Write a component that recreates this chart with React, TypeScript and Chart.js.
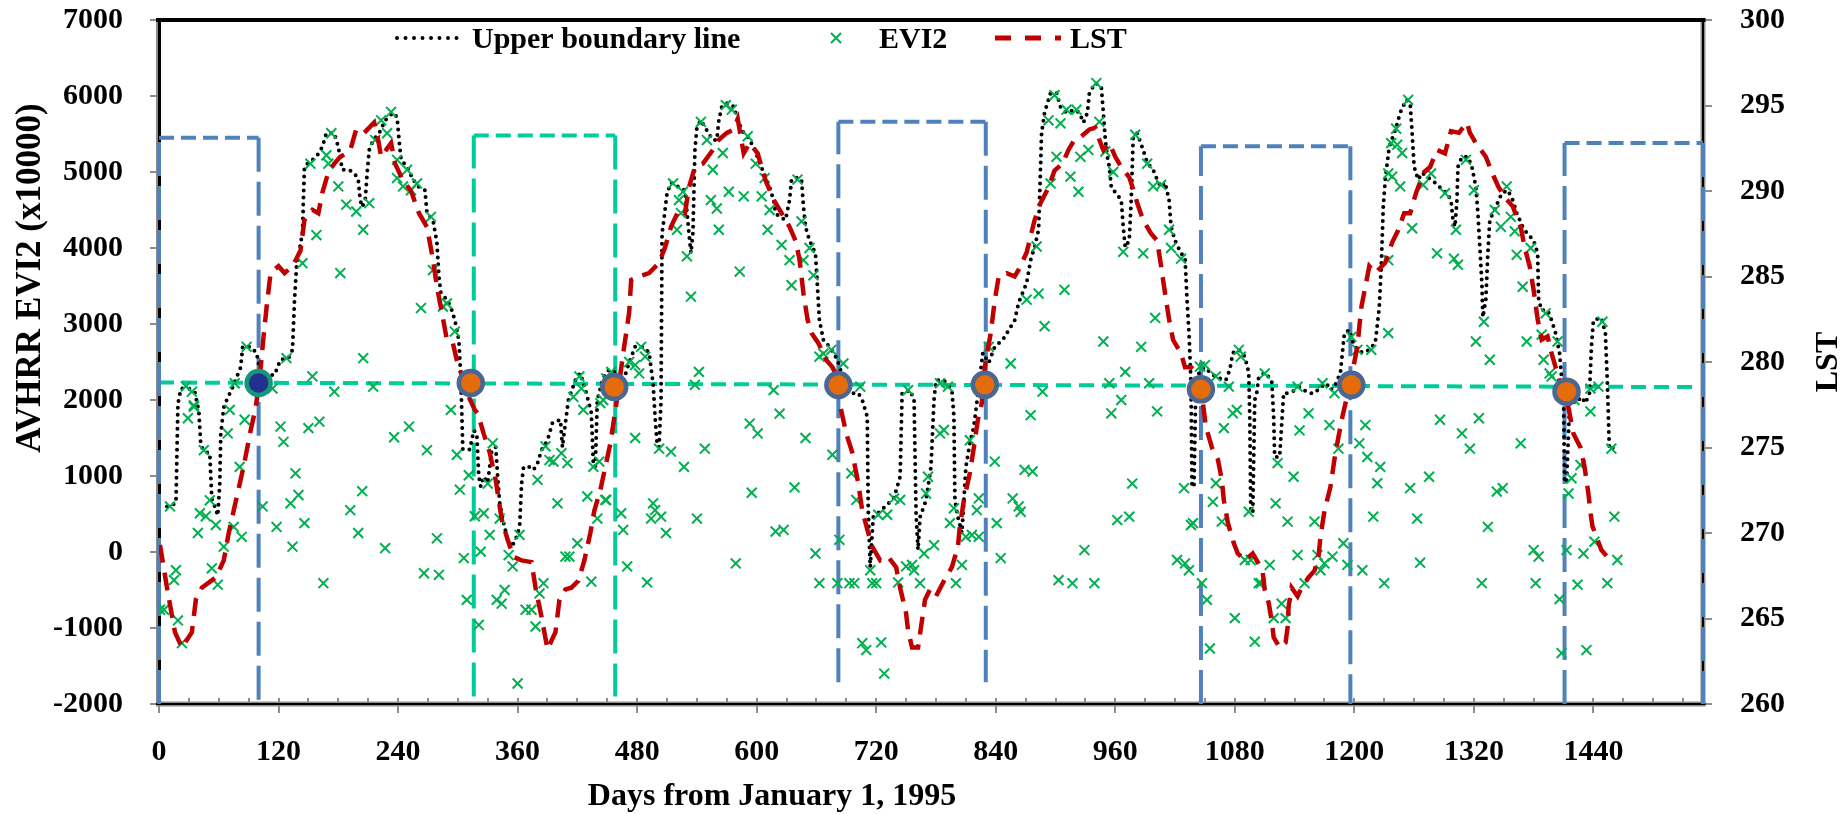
import React, { useEffect, useRef } from 'react';
import { Chart, registerables } from 'chart.js';
Chart.register(...registerables);

const FONT = "'Times New Roman', 'Liberation Serif', serif";

// ---- tick values ----
const xTickValues = [0, 120, 240, 360, 480, 600, 720, 840, 960, 1080, 1200, 1320, 1440];
const yTickValues = [-2000, -1000, 0, 1000, 2000, 3000, 4000, 5000, 6000, 7000];
const lstTickValues = [260, 265, 270, 275, 280, 285, 290, 295, 300];

// ---- titles / legend labels ----
const xTitle = 'Days from January 1, 1995';
const yTitle = 'AVHRR EVI2 (x10000)';
const y2Title = 'LST';
const legendLabels = ['Upper boundary line', 'EVI2', 'LST'];

// ---- series: [day, value] ----
const upperBoundary: [number, number][] = [
  [8, 600], [17, 640], [19, 1950], [22, 2150], [30, 2150], [36, 2100], [40, 1850], [42, 1400], [46, 1320], [51, 1300],
  [53, 700], [56, 600], [59, 480], [61, 900], [62, 1550], [65, 1900], [68, 2000], [74, 2170], [82, 2430], [84, 2700],
  [92, 2700], [98, 2620], [101, 2400], [106, 2330], [116, 2330], [122, 2530], [130, 2550], [134, 2660], [136, 3300],
  [138, 3750], [144, 4200], [146, 5070], [150, 5120], [158, 5200], [164, 5330], [168, 5510], [176, 5510], [180, 5330],
  [184, 5030], [190, 5030], [196, 4990], [200, 4900], [202, 4630], [204, 4540], [207, 4630], [209, 4990], [211, 5290],
  [215, 5420], [221, 5510], [227, 5680], [235, 5780], [239, 5720], [241, 5420], [243, 5160], [249, 5070], [255, 4900],
  [261, 4800], [267, 4760], [269, 4460], [275, 4370], [279, 4070], [281, 3620], [283, 3410], [289, 3320], [293, 3220],
  [297, 3050], [301, 2790], [303, 2300], [305, 1350], [312, 1350], [316, 1600], [319, 1560], [321, 1000], [323, 860],
  [326, 990], [330, 910], [334, 1340], [338, 1380], [340, 990], [342, 650], [346, 380], [350, 160], [354, 70], [358, 160],
  [362, 330], [364, 900], [366, 1120], [372, 1120], [376, 1080], [380, 1170], [384, 1340], [390, 1470], [395, 1700],
  [403, 1740], [405, 1380], [407, 1600], [411, 2000], [419, 2300], [423, 2350], [429, 2090], [434, 1830], [436, 1170],
  [438, 1120], [440, 2000], [446, 2300], [452, 2400], [460, 2350], [466, 2250], [472, 2490], [478, 2700], [486, 2700],
  [492, 2620], [496, 2220], [498, 1780], [500, 1430], [502, 1380], [504, 2000], [505, 4200], [506, 4280], [510, 4720],
  [514, 4860], [522, 4800], [528, 4760], [532, 4200], [534, 3930], [536, 4200], [538, 5290], [540, 5590], [544, 5680],
  [548, 5590], [556, 5420], [560, 5420], [562, 5680], [565, 5860], [571, 5910], [577, 5860], [581, 5680], [587, 5510],
  [591, 5460], [597, 5330], [603, 5120], [607, 4990], [613, 4800], [617, 4630], [619, 4460], [623, 4410], [629, 4370],
  [633, 4630], [635, 4900], [639, 4930], [645, 4900], [647, 4540], [649, 4280], [653, 4100], [659, 3930], [661, 3490],
  [663, 3050], [667, 2790], [673, 2700], [677, 2620], [681, 2530], [685, 2360], [690, 2170], [696, 2090], [702, 2090],
  [706, 2000], [711, 1780], [712, 550], [714, -200], [716, 250], [717, 460], [725, 550], [733, 650], [738, 720],
  [744, 990], [746, 2090], [754, 2130], [758, 2000], [760, 500], [762, 30], [764, 460], [770, 680], [775, 1120],
  [778, 2000], [780, 2260], [788, 2260], [796, 2130], [798, 1780], [799, 680], [802, 460], [806, 250], [808, 680],
  [810, 1120], [814, 1430], [818, 1650], [823, 2170], [827, 2620], [833, 2490], [839, 2700], [847, 2790], [853, 2920],
  [859, 3050], [863, 3280], [867, 3410], [871, 3540], [875, 3840], [879, 4010], [883, 4240], [885, 5070], [886, 5510],
  [889, 5780], [895, 6040], [901, 6040], [905, 5860], [911, 5780], [919, 5820], [924, 5780], [928, 5650], [932, 5780],
  [934, 6040], [940, 6170], [946, 6120], [948, 5780], [950, 5420], [952, 5200], [954, 5070], [956, 4800], [966, 4630],
  [968, 4280], [970, 4010], [974, 4100], [976, 4630], [978, 5460], [982, 5510], [988, 5290], [992, 5120], [998, 5030],
  [1002, 4900], [1006, 4800], [1010, 4860], [1014, 4630], [1016, 4280], [1020, 4100], [1026, 3930], [1030, 3880],
  [1032, 3320], [1034, 2880], [1036, 2220], [1037, 860], [1039, 860], [1041, 2300], [1049, 2430], [1061, 2300],
  [1071, 2260], [1075, 2400], [1078, 2620], [1084, 2660], [1090, 2570], [1094, 2360], [1095, 1780], [1096, 550],
  [1098, 510], [1100, 2000], [1102, 2090], [1104, 2300], [1110, 2360], [1117, 2260], [1119, 1780], [1120, 1250],
  [1125, 1250], [1129, 2090], [1133, 2090], [1141, 2130], [1145, 2170], [1154, 2090], [1160, 2090], [1166, 2170],
  [1172, 2220], [1176, 2130], [1180, 2170], [1186, 2360], [1188, 2620], [1190, 2880], [1195, 2920], [1199, 2750],
  [1203, 2660], [1209, 2620], [1215, 2660], [1221, 2750], [1225, 3220], [1227, 3750], [1229, 4540], [1231, 4900],
  [1235, 5330], [1242, 5590], [1246, 5780], [1252, 5950], [1256, 5910], [1258, 5510], [1260, 5070], [1264, 4900],
  [1268, 4990], [1274, 4930], [1281, 4860], [1289, 4760], [1293, 4720], [1297, 4630], [1299, 4370], [1301, 4280],
  [1303, 4630], [1304, 5070], [1308, 5200], [1314, 5200], [1318, 5070], [1322, 4800], [1324, 4460], [1326, 4010],
  [1328, 3540], [1329, 3090], [1332, 3320], [1334, 3930], [1336, 4370], [1342, 4540], [1348, 4720], [1354, 4760],
  [1359, 4630], [1363, 4460], [1369, 4280], [1373, 4200], [1380, 4100], [1384, 3930], [1385, 3320], [1388, 3180],
  [1394, 3180], [1398, 3050], [1402, 2880], [1406, 2620], [1408, 2300], [1410, 2000], [1411, 950], [1413, 910],
  [1416, 1900], [1418, 2000], [1422, 1960], [1428, 2040], [1432, 1960], [1436, 2090], [1438, 2700], [1440, 3050],
  [1448, 3080], [1452, 2880], [1454, 2220], [1456, 1350], [1460, 1370],
];

const evi2: [number, number][] = [
  [27, 2180], [33, 2110], [35, 1930], [76, 2220], [88, 2700], [92, 2220], [114, 2150], [128, 2550], [144, 3800],
  [152, 5110], [158, 4170], [168, 5220], [170, 5110], [173, 5510], [180, 4810], [182, 3670], [188, 4570], [198, 4480],
  [205, 4240], [205, 2550], [211, 4590], [215, 2175], [217, 5420], [223, 5680], [229, 5510], [233, 5790], [239, 5160],
  [239, 4920], [245, 4810], [249, 5030], [253, 4760], [259, 4850], [263, 3210], [273, 4410], [275, 3710], [285, 3230],
  [289, 3270], [297, 2900], [293, 1870], [154, 2310], [176, 2110], [422, 2310], [424, 2150], [416, 2040], [446, 2000],
  [454, 2370],
  [1, -760], [5, -760], [11, 600], [15, -370], [17, -240], [19, -900], [23, -1200], [29, 1760], [35, 1910], [39, 250],
  [41, 510], [45, 1340], [47, 470], [51, 680], [53, -215], [57, 355], [59, -430], [65, 70], [69, 1560], [71, 1870],
  [75, 330], [81, 1120], [83, 200], [86, 1740], [104, 600], [118, 330], [122, 1650], [125, 1450], [132, 640],
  [137, 1035], [134, 70], [140, 750], [146, 380], [150, 1630], [161, 1715], [165, -410], [192, 550], [200, 250],
  [204, 800], [227, 50], [236, 1510], [251, 1650], [269, 1340], [266, -280], [279, 180], [281, -300], [299, 1280],
  [302, 820], [306, -80], [309, -630], [311, 1010], [317, 470], [321, -960], [323, 5], [326, 510], [330, 900],
  [332, 225], [335, 1430], [339, -630], [344, -680], [347, -500], [342, 440], [351, -40], [355, -190], [360, -1730],
  [362, 225], [368, -760], [374, -760], [378, -980], [382, -545], [386, -410], [380, 950], [388, 1390], [392, 1210],
  [396, 1190], [400, 640], [404, 1300], [408, -60], [412, -60], [410, 1170], [420, 115], [430, 730], [434, -390],
  [436, 1120], [440, 440], [442, 1190], [448, 685], [426, 1870], [443, 1960],
  [449, 2285], [472, 2500], [478, 2460], [482, 2350], [484, 2700], [488, 2570], [516, 4850], [522, 4630], [526, 4740],
  [524, 4460], [520, 4240], [530, 3890], [534, 3360], [544, 5660], [550, 5420], [556, 5030], [554, 4630], [560, 4520],
  [562, 4240], [566, 5250], [569, 5880], [575, 5820], [572, 4740], [583, 3690], [587, 4680], [591, 5470], [599, 5110],
  [605, 4680], [608, 4920], [611, 4240], [613, 4500], [625, 4040], [633, 3840], [635, 3510], [641, 4900], [645, 4350],
  [647, 3840], [653, 4000], [657, 3640], [663, 2570], [667, 2610], [675, 2660], [687, 2480], [704, 2175], [617, 2130],
  [623, 1820], [542, 2370], [538, 2200], [752, 2130], [784, 2220], [792, 2175], [833, 2700], [855, 2480], [871, 3320],
  [883, 3400], [889, 2970], [909, 3450], [881, 4020], [895, 4850], [901, 5200], [893, 5680], [899, 6010], [905, 5640],
  [911, 5820], [921, 5820], [925, 5200], [923, 4740], [915, 4940], [933, 5290], [941, 6170], [944, 5660], [950, 5270],
  [958, 5000], [968, 3950], [980, 5490], [988, 3930], [992, 5110], [998, 4810], [1006, 4830], [1000, 3080], [1014, 4240],
  [1016, 4000], [1026, 3860], [948, 2770], [986, 2700], [970, 2370], [994, 2220], [954, 2220], [966, 2000], [1002, 1850],
  [1050, 2460], [887, 2110], [875, 1800],
  [449, 685], [464, 510], [466, 290], [470, -190], [478, 1500], [490, -400], [496, 640], [498, 550], [494, 440],
  [504, 465], [502, 1360], [509, 250], [514, 1320], [527, 1120], [540, 440], [548, 1360], [579, -150], [593, 1690],
  [595, 780], [601, 1560], [619, 270], [627, 290], [638, 850], [649, 1500], [659, -20], [663, -410], [676, 1280],
  [681, -410], [683, 160], [693, -410], [698, -410], [695, 1035], [700, 685], [706, -1200], [710, -1290], [716, -410],
  [720, -410], [714, -240], [722, 490], [728, -1600], [725, -1190], [731, 490], [738, 705], [744, 685], [742, -400],
  [750, -190], [758, -240], [756, -170], [764, -410], [768, -20], [772, 990], [770, 770], [778, 90], [784, 1560],
  [788, 1605], [794, 380], [798, 575], [800, -410], [806, -170], [810, 200], [814, 1470], [816, 225], [823, 200],
  [823, 705], [821, 550], [839, 1190], [841, 380], [845, -80], [857, 705], [863, 600], [865, 530], [869, 1080],
  [877, 1060], [903, -370], [917, -410], [929, 25], [939, -410], [956, 1825], [962, 420], [974, 465], [977, 900],
  [1022, -105], [1030, -150], [1034, -240], [1029, 840], [1038, 380], [1036, 355],
  [1045, 2440], [1061, 2310], [1074, 2175], [1084, 2660], [1086, 2570], [1110, 2350], [1143, 2175], [1168, 2220],
  [1180, 2090], [1197, 2830], [1203, 2660], [1217, 2660], [1234, 2880], [1234, 3840], [1234, 4980], [1238, 4940],
  [1237, 5380], [1246, 4810], [1248, 5250], [1242, 5570], [1243, 5360], [1254, 5950], [1258, 4260], [1269, 4830],
  [1277, 4980], [1283, 3930], [1291, 4720], [1300, 3860], [1304, 3780], [1302, 4240], [1312, 5160], [1320, 4760],
  [1322, 2770], [1330, 3030], [1336, 2530], [1341, 4500], [1347, 4280], [1353, 4810], [1357, 4410], [1361, 4220],
  [1363, 3910], [1369, 3490], [1373, 2770], [1377, 4000], [1392, 3140], [1388, 2860], [1390, 2530], [1396, 2350],
  [1398, 2310], [1404, 2770], [1421, 2000], [1437, 2150], [1445, 2175], [1449, 3030],
  [1047, -410], [1052, -630], [1055, -1270], [1061, 905], [1058, 660], [1067, 400], [1069, 1630], [1078, 1825],
  [1080, -870], [1082, 1870], [1090, -105], [1094, 530], [1096, -105], [1100, -1180], [1104, -410], [1106, -410],
  [1115, -170], [1119, -870], [1121, 640], [1123, 1170], [1127, -680], [1131, -870], [1133, 400], [1139, 990],
  [1143, -40], [1145, 1600], [1150, -410], [1154, 1825], [1160, 400], [1163, -40], [1166, -240], [1170, -150],
  [1175, 1670], [1178, -60], [1184, 1360], [1189, 115], [1193, -170], [1205, 1430], [1208, -240], [1211, 1670],
  [1213, 1250], [1219, 465], [1223, 905], [1226, 1120], [1230, -410], [1256, 840], [1263, 440], [1266, -140],
  [1275, 990], [1286, 1740], [1308, 1560], [1316, 1360], [1325, 1760], [1328, -410], [1334, 330], [1343, 795],
  [1349, 840], [1367, 1430], [1380, 25], [1385, -60], [1382, -410], [1406, -620], [1408, -1330], [1413, 25],
  [1415, 770], [1418, 970], [1424, -430], [1427, 1145], [1430, -20], [1433, -1290], [1437, 1850], [1441, 135],
  [1454, -410], [1458, 1360], [1461, 465], [1464, -105],
];

const lst: [number, number][] = [
  [1, 269.3], [8, 266.8], [16, 264.2], [23, 263.3], [33, 264.2], [37, 266.1], [43, 266.8], [57, 267.4], [65, 268.4],
  [70, 270.0], [78, 272.1], [85, 273.9], [92, 276.0], [97, 277.3], [101, 279.0], [105, 281.5], [108, 283.2],
  [112, 285.2], [120, 285.6], [126, 285.2], [134, 285.6], [142, 286.5], [146, 288.3], [154, 288.9], [160, 288.7],
  [164, 289.9], [170, 291.1], [176, 291.6], [182, 292.0], [188, 292.2], [192, 292.4], [198, 293.6], [206, 293.4],
  [216, 294.0], [220, 293.0], [223, 292.0], [233, 292.8], [237, 291.6], [245, 290.6], [253, 290.0], [261, 288.7],
  [269, 287.9], [275, 286.0], [279, 284.4], [283, 283.2], [289, 281.3], [295, 281.1], [299, 280.1], [303, 279.4],
  [309, 278.2], [317, 277.2], [320, 277.0], [326, 275.8], [332, 274.7], [338, 273.1], [344, 270.8], [350, 269.6],
  [356, 268.6], [364, 268.4], [374, 268.3], [378, 266.8], [384, 265.1], [390, 263.2], [398, 264.2], [402, 266.1],
  [408, 266.7], [414, 266.8], [421, 267.2], [427, 268.4], [433, 270.0], [437, 271.3], [443, 272.5], [453, 275.2],
  [459, 277.5], [466, 280.5], [472, 282.9], [474, 284.8], [482, 285.0], [492, 285.2], [502, 285.8], [508, 286.7],
  [514, 287.9], [522, 288.9], [528, 288.7], [532, 290.2], [538, 291.4], [546, 291.6], [556, 292.4], [562, 293.0],
  [570, 293.4], [577, 293.6], [581, 294.2], [587, 292.2], [593, 292.8], [601, 292.2], [609, 290.6], [617, 289.5],
  [625, 288.7], [633, 287.9], [639, 287.1], [643, 286.0], [647, 284.0], [651, 282.5], [655, 281.7], [662, 281.1],
  [670, 280.1], [676, 279.7], [682, 279.0], [684, 277.4], [690, 275.8], [696, 274.7], [702, 272.9], [706, 271.3],
  [712, 270.0], [716, 269.2], [724, 268.4], [732, 268.6], [740, 268.0], [744, 266.8], [750, 265.3], [752, 264.3],
  [756, 263.3], [762, 263.3], [765, 264.5], [769, 266.1], [774, 266.7], [780, 266.3], [788, 267.2], [796, 268.0],
  [802, 269.2], [804, 270.4], [808, 271.9], [814, 273.5], [818, 275.0], [822, 276.6], [826, 277.6], [829, 279.7],
  [835, 281.7], [839, 283.6], [843, 285.0], [851, 285.2], [859, 285.0], [863, 285.4], [871, 286.4], [879, 288.3],
  [885, 289.3], [893, 290.2], [899, 291.2], [907, 291.6], [913, 292.4], [919, 293.0], [926, 293.2], [934, 293.6],
  [940, 293.7], [944, 293.0], [948, 292.4], [954, 292.8], [960, 292.0], [966, 291.4], [974, 290.8], [978, 290.1],
  [982, 289.3], [988, 288.3], [996, 287.5], [1002, 287.1], [1006, 285.6], [1010, 284.0], [1014, 282.5], [1018, 281.3],
  [1026, 280.5], [1030, 279.7], [1036, 279.7], [1040, 279.5], [1046, 278.5], [1051, 276.2], [1057, 275.0],
  [1063, 274.3], [1067, 273.1], [1069, 271.9], [1073, 270.6], [1079, 269.4], [1083, 268.8], [1090, 268.4],
  [1098, 268.8], [1104, 268.2], [1108, 267.7], [1110, 266.7], [1114, 265.9], [1117, 264.9], [1119, 263.9],
  [1125, 263.3], [1131, 263.6], [1133, 264.5], [1134, 265.7], [1137, 266.8], [1143, 266.3], [1147, 266.8],
  [1154, 267.4], [1160, 267.8], [1164, 268.6], [1166, 269.8], [1170, 271.3], [1176, 272.7], [1180, 274.3],
  [1184, 275.6], [1188, 276.8], [1197, 279.1], [1203, 280.9], [1207, 283.2], [1215, 285.6], [1221, 285.2],
  [1231, 285.8], [1238, 287.0], [1244, 287.7], [1250, 288.7], [1256, 288.7], [1262, 289.9], [1270, 291.1],
  [1276, 291.4], [1283, 292.4], [1291, 292.2], [1297, 293.5], [1305, 293.4], [1313, 294.0], [1316, 293.4],
  [1322, 292.8], [1332, 292.0], [1338, 291.1], [1345, 290.2], [1353, 289.5], [1359, 289.1], [1367, 287.9],
  [1371, 286.7], [1376, 285.6], [1380, 284.2], [1384, 282.5], [1388, 281.3], [1394, 281.5], [1398, 280.5],
  [1402, 279.7], [1406, 278.9], [1412, 278.2], [1416, 277.0], [1420, 275.8], [1427, 275.0], [1431, 273.9],
  [1435, 272.3], [1437, 271.2], [1439, 270.4], [1443, 269.8], [1448, 269.0], [1454, 268.6], [1460, 268.4],
];

// threshold line and season boxes (corner points)
const thresholdLine: [number, number][] = [[0, 2230], [1540, 2170]];
const blueBox1: [number, number][] = [[0, -2000], [0, 5450], [100, 5450], [100, -1970]];
const greenBox: [number, number][] = [[316, -1900], [316, 5480], [458, 5480], [458, -1900]];
const blueBox2: [number, number][] = [[682, -1715], [682, 5660], [830, 5660], [830, -1715]];
const blueBox3: [number, number][] = [[1046, -2000], [1046, 5340], [1196, 5340], [1196, -2000]];
const blueBox4: [number, number][] = [[1411, -2000], [1411, 5380], [1550, 5380], [1550, -2000]];
const crossings: [number, number][] = [
  [100, 2224], [313, 2224], [457, 2171], [682, 2197], [829, 2200], [1046, 2140], [1197, 2200], [1413, 2110],
];

const toXY = (arr: [number, number][]) => arr.map(([x, y]) => ({ x, y }));

const BLUE = '#4F81BD';
const TEAL = '#00CC99';
const GREEN = '#00B050';
const RED = '#C00000';

// each box -> one dataset per side, vertical sides long-dashed, top short-dashed
const boxDatasets = (box: [number, number][], color: string) => {
  const out: any[] = [];
  for (let i = 0; i < box.length - 1; i++) {
    const seg = [box[i], box[i + 1]];
    const vertical = seg[0][0] === seg[1][0];
    out.push({
      type: 'line',
      data: toXY(seg),
      borderColor: color,
      borderWidth: 4,
      borderDash: vertical ? [34, 10] : [15, 7],
      pointRadius: 0,
      fill: false,
      tension: 0,
      clip: false,
      order: 9,
    });
  }
  return out;
};

const framePlugin = {
  id: 'frame',
  beforeDatasetsDraw(chart: any) {
    const { ctx, chartArea: a, scales } = chart;
    const xs = scales.x, ys = scales.y, y2 = scales.y2;
    ctx.save();
    ctx.strokeStyle = '#8C8C8C';
    ctx.lineWidth = 2;
    ctx.beginPath();
    yTickValues.forEach((v) => {
      const p = Math.round(ys.getPixelForValue(v));
      ctx.moveTo(a.left - 9, p); ctx.lineTo(a.left, p);
    });
    lstTickValues.forEach((v) => {
      const p = Math.round(y2.getPixelForValue(v));
      ctx.moveTo(a.right, p); ctx.lineTo(a.right + 9, p);
    });
    xTickValues.forEach((v) => {
      const p = Math.round(xs.getPixelForValue(v));
      ctx.moveTo(p, a.bottom - 6); ctx.lineTo(p, a.bottom + 9);
    });
    for (let v = 30; v < xs.max; v += 30) {
      if (v % 120 === 0) continue;
      const p = Math.round(xs.getPixelForValue(v));
      ctx.moveTo(p, a.bottom - 6); ctx.lineTo(p, a.bottom);
    }
    ctx.stroke();
    const w = a.right - a.left, h = a.bottom - a.top;
    ctx.fillStyle = '#8C8C8C';
    ctx.fillRect(a.left - 3, a.top, 5, h + 2);
    ctx.fillRect(a.right - 2.5, a.top, 5, h + 2);
    ctx.fillRect(a.left - 3, a.bottom - 2.5, w + 5.5, 5);
    ctx.fillStyle = '#000';
    ctx.fillRect(a.left - 1, a.top, 3, h);
    ctx.fillRect(a.right - 1, a.top, 2, h);
    ctx.fillRect(a.left - 3, a.bottom - 1, w + 5.5, 2);
    ctx.fillRect(a.left - 3, a.top - 2, w + 5.5, 4);
    ctx.restore();
  },
};

const textPlugin = {
  id: 'texts',
  afterDraw(chart: any) {
    const { ctx, chartArea: a } = chart;
    ctx.save();
    ctx.fillStyle = '#000';
    ctx.textBaseline = 'alphabetic';
    ctx.textAlign = 'center';
    ctx.font = `bold 32px ${FONT}`;
    ctx.fillText(xTitle, 772, 805);
    ctx.save();
    ctx.font = `bold 35px ${FONT}`;
    ctx.translate(40, 278);
    ctx.rotate(-Math.PI / 2);
    ctx.fillText(yTitle, 0, 0);
    ctx.restore();
    ctx.save();
    ctx.translate(1837, (a.top + a.bottom) / 2);
    ctx.rotate(-Math.PI / 2);
    ctx.fillText(y2Title, 0, 0);
    ctx.restore();

    // legend
    const ly = 38;
    ctx.font = `bold 30px ${FONT}`;
    ctx.textAlign = 'left';
    ctx.lineCap = 'round';
    ctx.strokeStyle = '#000';
    ctx.lineWidth = 4;
    ctx.setLineDash([0, 8.5]);
    ctx.beginPath(); ctx.moveTo(397, ly); ctx.lineTo(463, ly); ctx.stroke();
    ctx.setLineDash([]);
    ctx.fillText(legendLabels[0], 472, 48);
    ctx.lineCap = 'butt';
    ctx.strokeStyle = GREEN;
    ctx.lineWidth = 2;
    ctx.beginPath();
    ctx.moveTo(831, ly - 5); ctx.lineTo(841, ly + 5);
    ctx.moveTo(831, ly + 5); ctx.lineTo(841, ly - 5);
    ctx.stroke();
    ctx.fillText(legendLabels[1], 879, 48);
    ctx.strokeStyle = RED;
    ctx.lineWidth = 5;
    ctx.setLineDash([16, 14]);
    ctx.beginPath(); ctx.moveTo(995, ly); ctx.lineTo(1061, ly); ctx.stroke();
    ctx.setLineDash([]);
    ctx.fillText(legendLabels[2], 1070, 48);
    ctx.restore();
  },
};

const zeroPad = (s: any) => { s.paddingTop = 0; s.paddingBottom = 0; s.paddingLeft = 0; s.paddingRight = 0; };

export default function App() {
  const ref = useRef<HTMLCanvasElement>(null);
  useEffect(() => {
    const tickFont = { family: FONT, size: 30, weight: 'bold' as const };
    const plain = (v: any) => String(v);
    const chart = new Chart(ref.current as HTMLCanvasElement, {
      type: 'line',
      data: {
        datasets: [
          {
            type: 'line',
            data: toXY(thresholdLine),
            borderColor: TEAL,
            borderWidth: 4,
            borderDash: [15, 8],
            pointRadius: 0,
            tension: 0,
            order: 10,
          } as any,
          ...boxDatasets(blueBox1, BLUE),
          ...boxDatasets(greenBox, TEAL),
          ...boxDatasets(blueBox2, BLUE),
          ...boxDatasets(blueBox3, BLUE),
          ...boxDatasets(blueBox4, BLUE),
          {
            type: 'line',
            label: legendLabels[0],
            data: toXY(upperBoundary),
            borderColor: '#000',
            borderWidth: 4,
            borderDash: [0, 7],
            borderCapStyle: 'round',
            pointRadius: 0,
            tension: 0,
            order: 6,
          } as any,
          {
            type: 'scatter',
            label: legendLabels[1],
            data: toXY(evi2),
            showLine: false,
            pointStyle: 'crossRot',
            pointRadius: 7,
            pointBorderWidth: 2,
            pointBorderColor: GREEN,
            pointBackgroundColor: GREEN,
            order: 5,
          } as any,
          {
            type: 'line',
            label: legendLabels[2],
            data: toXY(lst),
            yAxisID: 'y2',
            borderColor: RED,
            borderWidth: 4.5,
            borderDash: [18, 10],
            pointRadius: 0,
            tension: 0,
            order: 4,
          } as any,
          {
            type: 'scatter',
            data: toXY(crossings),
            showLine: false,
            pointRadius: 12,
            pointBorderWidth: 4.5,
            pointBackgroundColor: (c: any) => (c.dataIndex === 0 ? '#24308E' : '#E46C0A'),
            pointBorderColor: (c: any) => (c.dataIndex === 0 ? '#16977A' : '#4A6793'),
            clip: false,
            order: 0,
          } as any,
        ],
      },
      options: {
        responsive: false,
        maintainAspectRatio: false,
        animation: false,
        devicePixelRatio: 1,
        events: [],
        layout: { padding: { top: 20, left: 0, right: 0, bottom: 0 } },
        plugins: { legend: { display: false }, tooltip: { enabled: false }, title: { display: false } },
        scales: {
          x: {
            type: 'linear',
            position: 'bottom',
            min: 0,
            max: 1550,
            grid: { display: false },
            border: { display: false },
            afterBuildTicks: (s: any) => { s.ticks = xTickValues.map((v) => ({ value: v })); },
            afterFit: (s: any) => { s.height = 110; zeroPad(s); },
            ticks: { font: tickFont, color: '#000', padding: 22, maxRotation: 0, autoSkip: false, callback: plain },
          },
          y: {
            type: 'linear',
            position: 'left',
            min: -2000,
            max: 7000,
            grid: { display: false },
            border: { display: false },
            afterBuildTicks: (s: any) => { s.ticks = yTickValues.map((v) => ({ value: v })); },
            afterFit: (s: any) => { s.width = 159; zeroPad(s); },
            ticks: { font: tickFont, color: '#000', padding: 28, autoSkip: false, callback: plain },
          },
          y2: {
            type: 'linear',
            position: 'right',
            min: 260,
            max: 300,
            grid: { display: false },
            border: { display: false },
            afterBuildTicks: (s: any) => { s.ticks = lstTickValues.map((v) => ({ value: v })); },
            afterFit: (s: any) => { s.width = 139; zeroPad(s); },
            ticks: { font: tickFont, color: '#000', padding: 29, autoSkip: false, callback: plain },
          },
        },
      } as any,
      plugins: [framePlugin, textPlugin],
    });
    return () => chart.destroy();
  }, []);
  return (
    <div style={{ position: 'absolute', left: 0, top: 0, width: 1842, height: 814, background: '#fff' }}>
      <canvas ref={ref} width={1842} height={814} style={{ display: 'block', width: 1842, height: 814 }} />
    </div>
  );
}
